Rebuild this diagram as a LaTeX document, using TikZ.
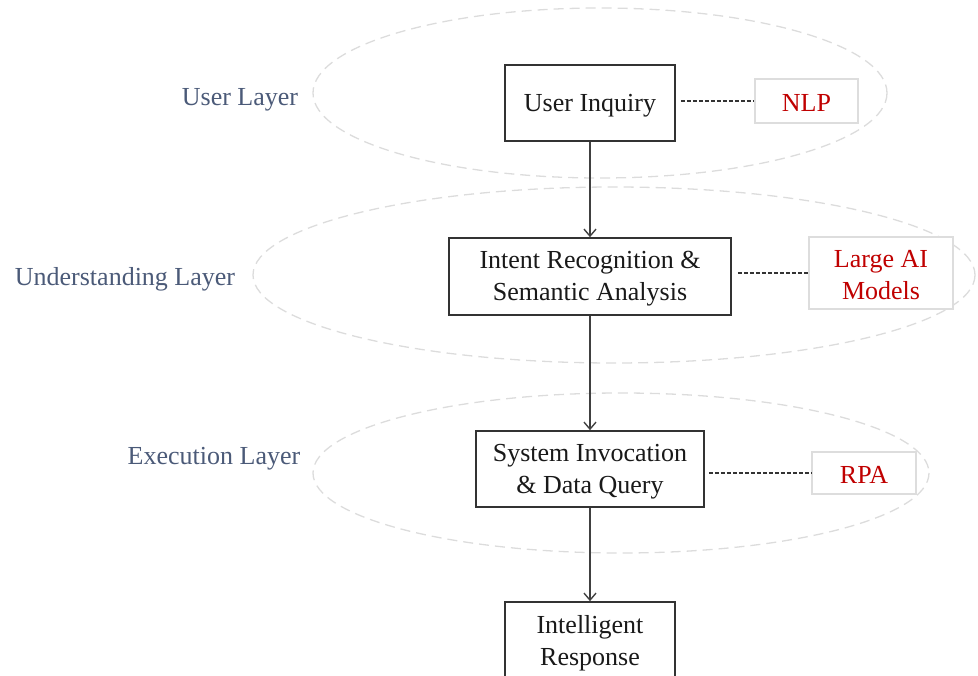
\documentclass[tikz,border=0pt]{standalone}
\usepackage{fontspec}
\setmainfont{Liberation Serif}
\usetikzlibrary{arrows.meta}
\definecolor{layerblue}{HTML}{4B5A78}
\definecolor{techred}{HTML}{C00000}
\definecolor{ringgray}{HTML}{DCDCDC}
\definecolor{sidegray}{HTML}{DDDDDD}
\begin{document}
\begin{tikzpicture}[x=1pt,y=-1pt,
  every node/.style={font=\fontsize{26}{32}\selectfont},
  mainbox/.style={draw=black!80, line width=1.6pt, fill=white, inner sep=0pt},
  maintext/.style={align=center, inner sep=0pt, text=black!90},
  sidebox/.style={draw=sidegray, line width=1.2pt, fill=white, inner sep=0pt},
  sidetext/.style={align=center, inner sep=0pt, text=techred},
  layerlabel/.style={text=layerblue, inner sep=0pt},
  ring/.style={draw=ringgray, line width=1.3pt, dash pattern=on 10pt off 6pt},
  flow/.style={draw=black!75, line width=1.4pt, -{Straight Barb[length=7pt,width=12pt]}},
  link/.style={draw=black!80, line width=1.4pt, dash pattern=on 4pt off 2pt}
]
\useasboundingbox (0,0) rectangle (978,676);
% layer rings
\draw[ring] (600,93) ellipse [x radius=287, y radius=85];
\draw[ring] (614,275) ellipse [x radius=361, y radius=88];
\draw[ring] (621,473) ellipse [x radius=308, y radius=80];
% layer labels
\node[layerlabel] (l1) at (240,100) {User Layer};
\node[layerlabel] (l2) at (125,279) {Understanding Layer};
\node[layerlabel] (l3) at (214,459) {Execution Layer};
% main boxes
\node[mainbox, minimum width=170, minimum height=76] (ui) at (590,103) {};
\node[mainbox, minimum width=282, minimum height=77] (ir) at (590,276.5) {};
\node[mainbox, minimum width=228, minimum height=76] (si) at (590,469) {};
\node[mainbox, minimum width=170, minimum height=77] (resp) at (590,640.5) {};
\node[maintext] (ui-t) at ([yshift=-2.5pt]ui.center) {User Inquiry};
\node[maintext] (ir-t) at ([yshift=-2.5pt]ir.center) {Intent Recognition \&\\Semantic Analysis};
\node[maintext] (si-t) at ([yshift=-2.5pt]si.center) {System Invocation\\\& Data Query};
\node[maintext] (resp-t) at ([yshift=-2.5pt]resp.center) {Intelligent\\Response};
% side boxes
\node[sidebox, minimum width=103, minimum height=44] (nlp) at (806.5,101) {};
\node[sidebox, minimum width=144, minimum height=72] (ai) at (881,273) {};
\node[sidebox, minimum width=104, minimum height=42] (rpa) at (864,473) {};
\node[sidetext] (nlp-t) at ([yshift=-1.5pt]nlp.center) {NLP};
\node[sidetext] (ai-t) at ([yshift=-2.5pt]ai.center) {Large AI\\Models};
\node[sidetext] (rpa-t) at ([yshift=-1.5pt]rpa.center) {RPA};
% flow arrows
\draw[flow] (ui.south) -- (ir.north);
\draw[flow] (ir.south) -- (si.north);
\draw[flow] (si.south) -- (resp.north);
% dashed links
\draw[link] ([xshift=5pt]ui.east |- nlp.west) -- (nlp.west);
\draw[link] ([xshift=6pt]ir.east |- ai.west) -- (ai.west);
\draw[link] ([xshift=4pt]si.east |- rpa.west) -- (rpa.west);
\end{tikzpicture}
\end{document}
